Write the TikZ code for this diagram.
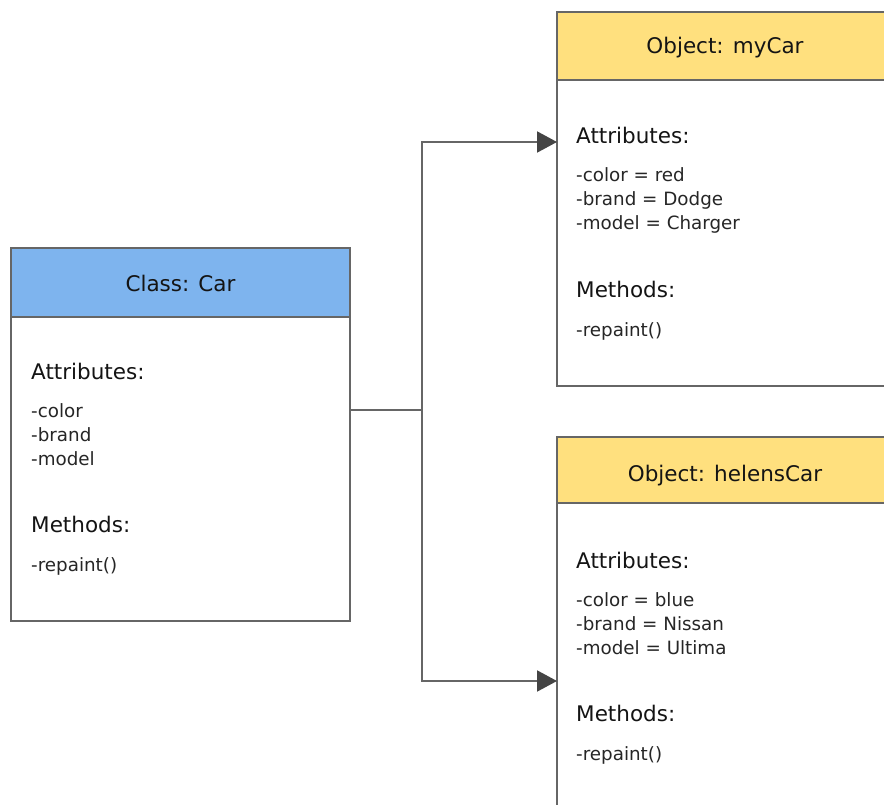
\documentclass[tikz,border=0pt]{standalone}
\usepackage{fontspec}
\setmainfont{DejaVu Sans}
\usetikzlibrary{arrows.meta}
\definecolor{classblue}{HTML}{7EB4EE}
\definecolor{objyellow}{HTML}{FFE07E}
\definecolor{edgegray}{HTML}{666666}
\definecolor{tipgray}{HTML}{444444}
\tikzset{
  head/.style={rectangle,draw=edgegray,line width=1.6pt,inner sep=0pt},
  headtext/.style={anchor=base,inner sep=0pt,font=\fontsize{21.5}{24}\selectfont,text=black!92},
  body/.style={rectangle,draw=edgegray,line width=1.6pt,fill=white,inner sep=0pt},
  title/.style={anchor=base west,inner sep=0pt,font=\fontsize{21.5}{24}\selectfont,text=black!92},
  items/.style={anchor=base west,inner sep=0pt,align=left,
    font=\fontsize{18.3}{24}\selectfont,text=black!85},
  link/.style={draw=edgegray,line width=2pt},
  arr/.style={link,-{Triangle[length=20pt,width=21pt,color=tipgray]}}
}
\begin{document}
\begin{tikzpicture}[x=1pt,y=-1pt]
\useasboundingbox[fill=white] (0,0) rectangle (884,805);
% class
\node(carbody)[body,minimum width=339pt,minimum height=304pt] at (180.5,469){};
\node(carhead)[head,fill=classblue,minimum width=339pt,minimum height=69pt] at (180.5,282.5){};
\node(carname)[headtext] at (180.5,291){Class: Car};
\node(carattr)[title] at (31,379){Attributes:};
\node(carvals)[items] at (31,465.7){-color\\-brand\\-model};
\node(carmeth)[title] at (31,532.7){Methods:};
\node(carops)[items] at (31,571.7){-repaint()};
% object myCar
\node(mybody)[body,minimum width=336pt,minimum height=306pt] at (725,233){};
\node(myhead)[head,fill=objyellow,minimum width=336pt,minimum height=68pt] at (725,46){};
\node(myname)[headtext] at (725,54){Object: myCar};
\node(myattr)[title] at (576,144){Attributes:};
\node(myvals)[items] at (576,229.3){-color = red\\-brand = Dodge\\-model = Charger};
\node(mymeth)[title] at (576,297.7){Methods:};
\node(myops)[items] at (576,336){-repaint()};
% object helensCar
\node(hbody)[body,minimum width=336pt,minimum height=330pt] at (725,668){};
\node(hhead)[head,fill=objyellow,minimum width=336pt,minimum height=66pt] at (725,470){};
\node(hname)[headtext] at (725,481){Object: helensCar};
\node(hattr)[title] at (576,568.3){Attributes:};
\node(hvals)[items] at (576,654.3){-color = blue\\-brand = Nissan\\-model = Ultima};
\node(hmeth)[title] at (576,721.7){Methods:};
\node(hops)[items] at (576,760.7){-repaint()};
% links
\coordinate(fork) at (422,410);
\coordinate(tomy) at (557,142);
\coordinate(toh) at (557,681);
\draw[link] (fork -| carbody.east) -- (fork);
\draw[arr] (fork) |- (tomy);
\draw[arr] (fork) |- (toh);
\end{tikzpicture}
\end{document}
